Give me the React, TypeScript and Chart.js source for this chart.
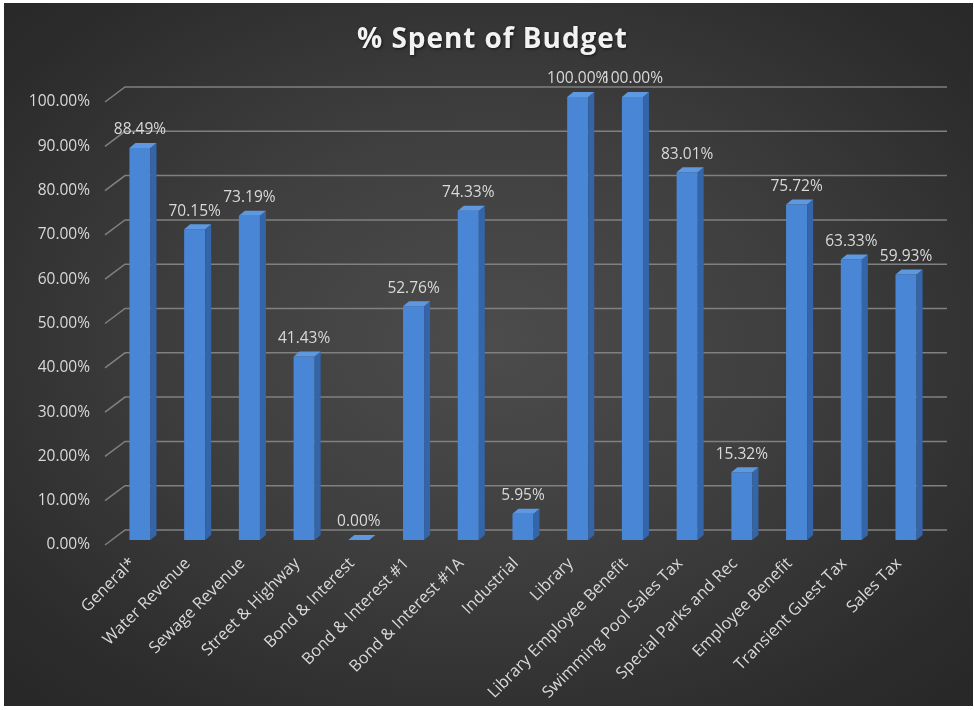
import React, { useEffect, useRef } from "react";
import { Chart, registerables } from "chart.js";

Chart.register(...registerables);

const categories = [
  "General*",
  "Water Revenue",
  "Sewage Revenue",
  "Street & Highway",
  "Bond & Interest",
  "Bond & Interest #1",
  "Bond & Interest #1A",
  "Industrial",
  "Library",
  "Library Employee Benefit",
  "Swimming Pool Sales Tax",
  "Special Parks and Rec",
  "Employee Benefit",
  "Transient Guest Tax",
  "Sales Tax",
];

const spentPercent = [
  88.49, 70.15, 73.19, 41.43, 0.0, 52.76, 74.33, 5.95, 100.0, 100.0, 83.01,
  15.32, 75.72, 63.33, 59.93,
];

const yTickValues = [0, 10, 20, 30, 40, 50, 60, 70, 80, 90, 100];

const titleText = "% Spent of Budget";

const FONT = '"Open Sans", "DejaVu Sans", sans-serif';

export default function App() {
  const canvasRef = useRef<HTMLCanvasElement | null>(null);

  useEffect(() => {
    document.body.style.margin = "0";
    const canvas = canvasRef.current;
    if (!canvas) return;

    const DX = 6;
    const DY = 5;

    const backGrid = {
      id: "backGrid",
      beforeDatasetsDraw(chart: any) {
        const ctx = chart.ctx;
        const ys = chart.scales.y;
        ctx.save();
        ctx.strokeStyle = "#808080";
        ctx.lineWidth = 1.5;
        for (const v of yTickValues) {
          const p = ys.getPixelForValue(v);
          ctx.beginPath();
          ctx.moveTo(105, p + 5);
          ctx.lineTo(125, p - 10);
          ctx.lineTo(947, p - 10);
          ctx.stroke();
        }
        ctx.restore();
      },
    };

    const bar3d = {
      id: "bar3d",
      afterDatasetsDraw(chart: any) {
        const ctx = chart.ctx;
        const meta = chart.getDatasetMeta(0);
        ctx.save();
        meta.data.forEach((el: any, i: number) => {
          const x0 = el.x - el.width / 2;
          const x1 = el.x + el.width / 2;
          const top = el.y;
          const base = el.base;
          // side face
          ctx.fillStyle = "#3465a8";
          ctx.beginPath();
          ctx.moveTo(x1, top);
          ctx.lineTo(x1 + DX, top - DY);
          ctx.lineTo(x1 + DX, base - DY);
          ctx.lineTo(x1, base);
          ctx.closePath();
          ctx.fill();
          // top face
          ctx.fillStyle = "#5d98e0";
          ctx.beginPath();
          ctx.moveTo(x0, top);
          ctx.lineTo(x0 + DX, top - DY);
          ctx.lineTo(x1 + DX, top - DY);
          ctx.lineTo(x1, top);
          ctx.closePath();
          ctx.fill();
          // data label
          ctx.fillStyle = "#d9d9d9";
          ctx.font = `15.5px ${FONT}`;
          ctx.textAlign = "center";
          ctx.textBaseline = "middle";
          ctx.fillText(spentPercent[i].toFixed(2) + "%", el.x, top - 18);
        });
        ctx.restore();
      },
    };

    const titlePlugin = {
      id: "titleDraw",
      afterDraw(chart: any) {
        const ctx = chart.ctx;
        ctx.save();
        ctx.font = `bold 28px ${FONT}`;
        ctx.fillStyle = "#f2f2f2";
        ctx.textAlign = "left";
        ctx.textBaseline = "alphabetic";
        const w = ctx.measureText(titleText).width;
        const target = 270;
        const ls = Math.max(0, (target - w) / (titleText.length - 1));
        (ctx as any).letterSpacing = `${ls}px`;
        ctx.shadowColor = "rgba(0,0,0,0.6)";
        ctx.shadowBlur = 3;
        ctx.shadowOffsetX = 1;
        ctx.shadowOffsetY = 1;
        ctx.fillText(titleText, 357, 48);
        ctx.restore();
      },
    };

    const chart = new Chart(canvas, {
      type: "bar",
      data: {
        labels: categories,
        datasets: [
          {
            data: spentPercent,
            backgroundColor: "#4a86d6",
            borderWidth: 0,
            barPercentage: 0.77,
            categoryPercentage: 0.5,
          },
        ],
      },
      options: {
        responsive: false,
        animation: false,
        devicePixelRatio: 1,
        layout: { padding: { left: 8.6, right: 40.6, top: 97, bottom: 0 } },
        plugins: {
          legend: { display: false },
          title: { display: false },
          tooltip: { enabled: false },
        },
        scales: {
          x: {
            grid: { display: false, drawTicks: false },
            border: { display: false },
            ticks: {
              color: "#d9d9d9",
              font: { family: FONT, size: 16.3 },
              minRotation: 45,
              maxRotation: 45,
              autoSkip: false,
              padding: 14,
              labelOffset: -7,
            },
            afterFit: (s: any) => {
              s.height = 170;
            },
          },
          y: {
            min: 0,
            max: 100,
            grid: { display: false, drawTicks: false },
            border: { display: false },
            afterBuildTicks: (s: any) => {
              s.ticks = yTickValues.map((v) => ({ value: v }));
            },
            ticks: {
              color: "#d9d9d9",
              font: { family: FONT, size: 15.5 },
              padding: 22.6,
              labelOffset: 5,
              callback: (v: any) => Number(v).toFixed(2) + "%",
            },
            afterFit: (s: any) => {
              s.width = 104;
            },
          },
        },
      },
      plugins: [backGrid, bar3d, titlePlugin],
    });

    return () => {
      chart.destroy();
    };
  }, []);

  return (
    <div
      style={{
        position: "relative",
        width: 974,
        height: 710,
        background: "#ffffff",
        overflow: "hidden",
      }}
    >
      <div
        style={{
          position: "absolute",
          left: 4,
          top: 3,
          width: 969,
          height: 703,
          background:
            "radial-gradient(ellipse 75% 75% at 50% 48%, #4c4c4c 0%, #3f3f3f 40%, #2c2c2c 80%, #262626 100%)",
        }}
      />
      <canvas
        ref={canvasRef}
        width={974}
        height={710}
        style={{ position: "absolute", left: 0, top: 0, display: "block" }}
      />
    </div>
  );
}
